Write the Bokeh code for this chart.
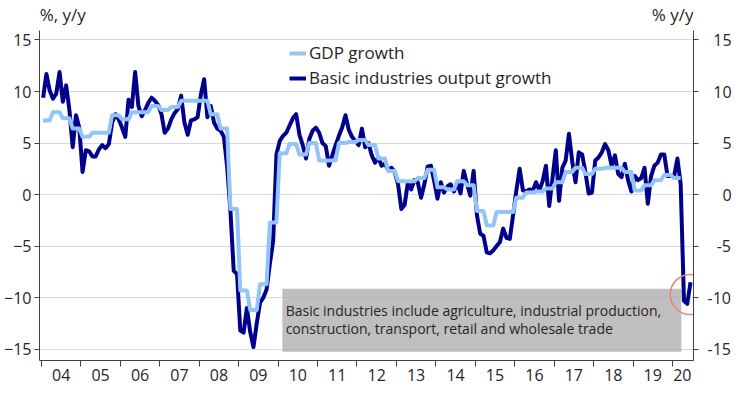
import numpy as np
from bokeh.plotting import figure
from bokeh.models import (FixedTicker, LinearAxis, Range1d, Label, BoxAnnotation,
                          Legend, LegendItem)
from bokeh.embed import file_html
from bokeh.resources import INLINE

# ---------------- data ----------------
year_labels = ["04", "05", "06", "07", "08", "09", "10", "11", "12",
               "13", "14", "15", "16", "17", "18", "19", "20"]

# Basic industries output growth, % y/y, monthly Jan 2004 - Jun 2020
basic = [
    9.4, 11.7, 10.1, 9.3, 9.8, 11.9, 9.0, 10.6, 8.2, 4.6, 7.7, 6.5,        # 2004
    2.2, 4.3, 4.2, 3.7, 3.7, 4.4, 4.8, 4.5, 4.9, 7.0, 7.8, 7.3,            # 2005
    6.5, 5.6, 9.2, 8.5, 11.9, 8.6, 7.6, 8.2, 8.9, 9.4, 9.1, 8.7,           # 2006
    7.8, 6.0, 6.4, 7.3, 7.9, 8.3, 9.6, 7.0, 5.8, 7.2, 7.3, 7.5,            # 2007
    9.7, 11.2, 7.5, 8.6, 7.0, 6.4, 6.2, 5.6, 2.7, -1.6, -7.4, -7.7,        # 2008
    -13.2, -13.4, -11.0, -13.3, -14.8, -12.5, -10.5, -10.0, -9.2, -6.7, -4.5, 3.9,  # 2009
    5.2, 5.7, 6.0, 6.7, 7.4, 7.8, 5.8, 4.8, 3.5, 5.4, 6.2, 6.5,            # 2010
    6.0, 5.0, 4.7, 2.8, 3.8, 4.8, 5.7, 6.5, 7.7, 6.3, 5.6, 5.2,            # 2011
    4.8, 6.4, 4.6, 5.0, 3.8, 3.1, 3.6, 2.8, 3.0, 2.4, 2.6, 2.2,            # 2012
    1.0, -1.4, -1.0, 1.2, 0.5, 1.4, 1.2, -0.3, 1.0, 2.7, 2.8, 1.3,         # 2013
    -0.4, 1.2, 0.2, 0.8, 1.0, 0.3, 1.2, 0.1, 2.3, 1.0, -0.1, 2.3,          # 2014
    -2.0, -3.8, -4.0, -5.6, -5.7, -5.4, -5.0, -4.6, -3.3, -4.2, -4.3, -2.0,  # 2015
    0.4, 2.5, 0.4, 0.3, 0.5, 0.4, 1.2, 0.4, 1.3, 2.8, -1.1, 1.6,           # 2016
    4.3, -0.6, 2.6, 3.3, 5.9, 3.2, 1.2, 4.1, 3.9, 2.2, 0.1, 0.2,           # 2017
    3.3, 3.6, 4.1, 4.9, 4.3, 2.8, 3.8, 2.0, 1.7, 3.0, 1.4, 0.3,            # 2018
    1.8, 1.4, 1.6, 2.6, -0.9, 1.8, 2.8, 3.1, 3.9, 3.9, 1.8, 1.8,           # 2019
    1.8, 3.5, 1.0, -10.3, -10.6, -8.5,                                     # 2020
]

# GDP growth, % y/y, quarterly 2004Q1 - 2020Q1
gdp_q = [
    7.2, 8.0, 7.4, 6.4,
    5.6, 6.0, 6.0, 7.7,
    7.3, 8.0, 8.0, 8.6,
    8.2, 8.5, 9.1, 9.1,
    9.1, 7.8, 6.4, -1.4,
    -9.3, -11.2, -8.7, -2.7,
    4.0, 4.9, 3.9, 5.0,
    3.3, 3.3, 5.0, 5.1,
    5.3, 4.8, 3.5, 2.3,
    1.3, 1.3, 1.6, 2.4,
    0.7, 0.5, 1.3, 0.9,
    -1.6, -3.0, -1.7, -1.7,
    -0.3, 0.2, 0.3, 0.6,
    1.2, 2.2, 2.6, 2.0,
    2.5, 2.6, 2.6, 2.2,
    0.4, 0.9, 1.4, 1.9,
    1.6,
]

y_ticks = [-15, -10, -5, 0, 5, 10, 15]

# ---------------- geometry (x in months since Jan 2004) ----------------
x_basic = np.arange(len(basic)) + 0.5
gdp_monthly = np.repeat(gdp_q, 3)          # quarterly value held for each month
x_gdp = np.arange(len(gdp_monthly)) + 0.5

X0, X1 = -0.6, 198.4
Y0, Y_AXIS_TOP, Y1 = -16.1, 15.95, 18.25   # frame extends above the axes for the unit titles

year_starts = [12 * i for i in range(len(year_labels))]
label_pos = [12 * i + 6 for i in range(len(year_labels) - 1)] + [195]

FONT = "Open Sans"
TXT = "#262626"
AX = "#404040"
DARK = "#00008C"
LIGHT = "#92C5F5"

p = figure(width=740, height=394, output_backend="svg", toolbar_location=None,
           x_range=Range1d(X0, X1), y_range=Range1d(Y0, Y1),
           min_border_left=39, min_border_right=47, min_border_top=6,
           min_border_bottom=34)
p.outline_line_color = None
p.background_fill_color = "white"
p.border_fill_color = "white"

# gridlines
p.xgrid.visible = False
p.ygrid.ticker = FixedTicker(ticks=y_ticks)
p.ygrid.grid_line_color = "#D9D9D9"
p.ygrid.grid_line_width = 1

# x axis: labels centred in each year, tick marks at year boundaries
xa = p.xaxis[0]
xa.ticker = FixedTicker(ticks=label_pos, minor_ticks=year_starts)
xa.major_label_overrides = {pos: lab for pos, lab in zip(label_pos, year_labels)}
xa.major_tick_line_color = None
xa.major_tick_in = 0
xa.major_tick_out = 0
xa.minor_tick_in = 0
xa.minor_tick_out = 6
xa.minor_tick_line_color = AX
xa.axis_line_color = AX
xa.major_label_standoff = 2
xa.major_label_text_font = FONT
xa.major_label_text_font_size = "16px"
xa.major_label_text_color = TXT

def style_y(ax):
    ax.ticker = FixedTicker(ticks=y_ticks)
    ax.bounds = (Y0, Y_AXIS_TOP)
    ax.major_tick_in = 0
    ax.major_tick_out = 5
    ax.minor_tick_line_color = None
    ax.major_tick_line_color = AX
    ax.axis_line_color = AX
    ax.major_label_standoff = 3
    ax.major_label_text_font = FONT
    ax.major_label_text_font_size = "16px"
    ax.major_label_text_color = TXT

style_y(p.yaxis[0])
ry = LinearAxis()
style_y(ry)
ry.major_label_standoff = 9
# right-align the right-hand labels by padding with digit/punctuation-width spaces
FIG, PUNC, HAIR = "\u2007", "\u2008", "\u200a"
def _pad(v):
    s = str(v)
    digits = len(s.lstrip("-"))
    pre = "" if s.startswith("-") else PUNC + HAIR
    return pre + FIG * (2 - digits) + s
ry.major_label_overrides = {v: _pad(v) for v in y_ticks}
p.add_layout(ry, "right")

# annotation box (under the lines)
box = BoxAnnotation(left=73.3, right=194.7, top=-9.13, bottom=-15.24,
                    fill_color="#A6A6A6", fill_alpha=0.72, line_color=None,
                    level="underlay")
p.add_layout(box)

r_basic = p.line(x_basic, basic, line_color=DARK, line_width=4, line_join="round")
r_gdp = p.line(x_gdp, gdp_monthly, line_color=LIGHT, line_width=4, line_join="round")

# highlight of the latest readings
p.circle(x=[197.4], y=[-9.7], radius=20, radius_units="screen",
         fill_color=None, line_color="#F08078", line_width=1.5)

p.add_layout(Label(x=74.3, y=-11.26, text="Basic industries include agriculture, industrial production,",
                   text_font=FONT, text_font_size="14px", text_color=TXT,
                   text_baseline="middle"))
p.add_layout(Label(x=74.3, y=-13.0, text="construction, transport, retail and wholesale trade",
                   text_font=FONT, text_font_size="14px", text_color=TXT,
                   text_baseline="middle"))

legend = Legend(items=[LegendItem(label="GDP growth", renderers=[r_gdp]),
                       LegendItem(label="Basic industries output growth", renderers=[r_basic])],
                location=(250, 271), orientation="vertical",
                background_fill_alpha=0, border_line_alpha=0,
                padding=0, margin=0, spacing=2, glyph_width=17, glyph_height=20,
                label_height=20, label_standoff=3,
                label_text_font=FONT, label_text_font_size="17px",
                label_text_color=TXT)
p.add_layout(legend)

# unit titles above the axes
p.add_layout(Label(x=X0 + 0.05, y=16.4, text="%, y/y", text_font=FONT,
                   text_font_size="17px", text_color=TXT))
p.add_layout(Label(x=X1, y=16.4, text="% y/y", text_font=FONT,
                   text_font_size="17px", text_color=TXT, text_align="right"))

open("out.html", "w").write(file_html(p, INLINE))
